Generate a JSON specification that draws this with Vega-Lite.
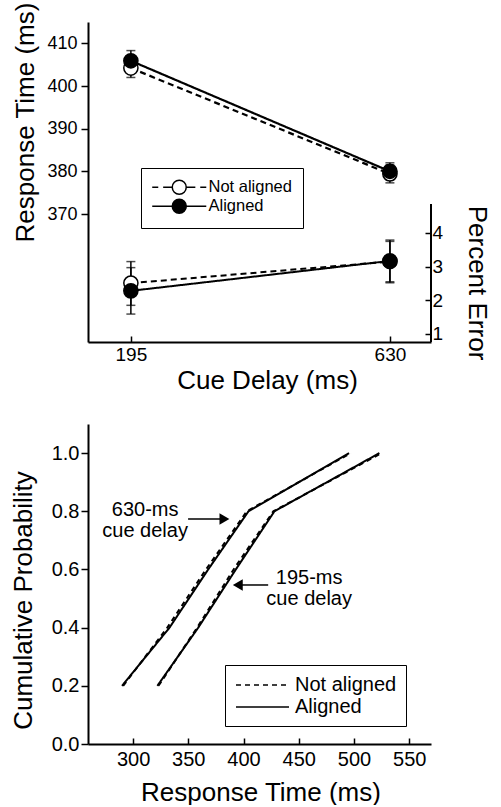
{
  "$schema": "https://vega.github.io/schema/vega-lite/v6.json",
  "background": "white",
  "padding": {"left": 10, "top": 1, "right": 0, "bottom": 0},
  "config": {
    "font": "Liberation Sans",
    "view": {"stroke": null},
    "axis": {"grid": false, "domainColor": "black", "domainWidth": 2, "tickColor": "black", "tickWidth": 1.5, "labelColor": "black", "titleColor": "black", "titleFontWeight": "normal", "titleFontSize": 26, "labelFont": "Liberation Sans", "titleFont": "Liberation Sans"},
    "legend": {"labelFont": "Liberation Sans", "labelColor": "black"}
  },
  "datasets": {
    "top": [
      {"delay": 195, "cond": "Not aligned", "rt": 404.2, "rt_lo": 402.0, "rt_hi": 406.4, "err": 2.51, "err_lo": 1.85, "err_hi": 3.15},
      {"delay": 630, "cond": "Not aligned", "rt": 379.4, "rt_lo": 377.3, "rt_hi": 381.5, "err": 3.15, "err_lo": 2.55, "err_hi": 3.75},
      {"delay": 195, "cond": "Aligned", "rt": 405.9, "rt_lo": 403.5, "rt_hi": 408.3, "err": 2.28, "err_lo": 1.59, "err_hi": 2.97},
      {"delay": 630, "cond": "Aligned", "rt": 380.0, "rt_lo": 378.0, "rt_hi": 382.0, "err": 3.17, "err_lo": 2.52, "err_hi": 3.79}
    ],
    "rightaxis": [{"delay": 699, "lo": 0.76, "hi": 4.86}],
    "cdf": [
      {"delay": "630", "cond": "Not aligned", "p": 0.2, "rt": 291},
      {"delay": "630", "cond": "Not aligned", "p": 0.4, "rt": 331},
      {"delay": "630", "cond": "Not aligned", "p": 0.6, "rt": 366},
      {"delay": "630", "cond": "Not aligned", "p": 0.8, "rt": 403},
      {"delay": "630", "cond": "Not aligned", "p": 1.0, "rt": 497},
      {"delay": "195", "cond": "Not aligned", "p": 0.2, "rt": 323},
      {"delay": "195", "cond": "Not aligned", "p": 0.4, "rt": 358},
      {"delay": "195", "cond": "Not aligned", "p": 0.6, "rt": 391},
      {"delay": "195", "cond": "Not aligned", "p": 0.8, "rt": 427},
      {"delay": "195", "cond": "Not aligned", "p": 1.0, "rt": 525},
      {"delay": "630", "cond": "Aligned", "p": 0.2, "rt": 290},
      {"delay": "630", "cond": "Aligned", "p": 0.4, "rt": 333},
      {"delay": "630", "cond": "Aligned", "p": 0.6, "rt": 368},
      {"delay": "630", "cond": "Aligned", "p": 0.8, "rt": 404.5},
      {"delay": "630", "cond": "Aligned", "p": 1.0, "rt": 495.5},
      {"delay": "195", "cond": "Aligned", "p": 0.2, "rt": 322},
      {"delay": "195", "cond": "Aligned", "p": 0.4, "rt": 359},
      {"delay": "195", "cond": "Aligned", "p": 0.6, "rt": 393},
      {"delay": "195", "cond": "Aligned", "p": 0.8, "rt": 428},
      {"delay": "195", "cond": "Aligned", "p": 1.0, "rt": 523}
    ],
    "notes": [
      {"rt": 310.9, "p": 0.804, "label": "630-ms\ncue delay"},
      {"rt": 459.4, "p": 0.571, "label": "195-ms\ncue delay"}
    ],
    "arrows": [
      {"from": 349.8, "to": 382.7, "p": 0.7735, "dir": "right"},
      {"from": 422.3, "to": 394.8, "p": 0.5466, "dir": "left"}
    ]
  },
  "spacing": 31,
  "resolve": {"scale": {"strokeDash": "independent", "fill": "independent", "shape": "independent"}, "legend": {"strokeDash": "independent", "fill": "independent", "shape": "independent"}},
  "vconcat": [
    {
      "width": 343,
      "height": 320,
      "layer": [
        {
          "data": {"name": "top"},
          "layer": [
            {
              "mark": {"type": "line", "stroke": "black", "strokeWidth": 2.2},
              "encoding": {
                "x": {"field": "delay", "type": "quantitative", "title": "Cue Delay (ms)", "scale": {"domain": [123, 699], "nice": false, "zero": false},
                      "axis": {"values": [195, 630], "tickSize": -6, "labelFontSize": 19, "labelPadding": 9, "title": "Cue Delay (ms)", "titleX": 179, "titleY": 46, "titleAlign": "center", "titleBaseline": "alphabetic"}},
                "y": {"field": "rt", "type": "quantitative", "title": "Response Time (ms)", "scale": {"domain": [340, 415], "nice": false, "zero": false},
                      "axis": {"orient": "left", "values": [370, 380, 390, 400, 410], "tickSize": 7, "labelFontSize": 18, "labelPadding": 4, "title": "Response Time (ms)", "titleAngle": -90, "titleX": -55, "titleY": 100, "titleAlign": "center", "titleBaseline": "alphabetic"}},
                "strokeDash": {"field": "cond", "type": "nominal", "scale": {"domain": ["Aligned", "Not aligned"], "range": [[1, 0], [6, 4]]}, "legend": null}
              }
            },
            {
              "mark": {"type": "errorbar", "color": "black", "ticks": {"size": 9, "thickness": 1.5}, "rule": {"strokeWidth": 1.5}},
              "encoding": {
                "x": {"field": "delay", "type": "quantitative", "title": "Cue Delay (ms)"},
                "y": {"field": "rt_lo", "type": "quantitative", "title": "Response Time (ms)"},
                "y2": {"field": "rt_hi"}
              }
            },
            {
              "mark": {"type": "point", "filled": true, "size": 200, "stroke": "black", "strokeWidth": 1.5, "opacity": 1},
              "encoding": {
                "x": {"field": "delay", "type": "quantitative", "title": "Cue Delay (ms)"},
                "y": {"field": "rt", "type": "quantitative", "title": "Response Time (ms)"},
                "fill": {"field": "cond", "type": "nominal", "scale": {"domain": ["Not aligned", "Aligned"], "range": ["white", "black"]}}
              }
            },
            {
              "mark": {"type": "point", "filled": true, "size": 196, "stroke": "black", "strokeWidth": 1.5, "opacity": 0},
              "encoding": {
                "x": {"field": "delay", "type": "quantitative", "title": "Cue Delay (ms)"},
                "y": {"field": "rt", "type": "quantitative", "title": "Response Time (ms)"},
                "fill": {"field": "cond", "type": "nominal",
                  "legend": {"orient": "none", "legendX": 53, "legendY": 146, "title": null, "strokeColor": "black", "padding": 11, "labelFontSize": 16.5, "symbolSize": 196, "symbolOffset": 19, "labelOffset": 21, "rowPadding": -2, "symbolStrokeColor": "black", "symbolStrokeWidth": 1.5, "symbolOpacity": 1}},
                "shape": {"field": "cond", "type": "nominal",
                  "scale": {"domain": ["Not aligned", "Aligned"], "range": ["M-3.86,0L-3.0,0M-2.3,0L-1,0M1,0L2.3,0M3.0,0L3.86,0M1,0A1,1,0,1,1,-1,0A1,1,0,1,1,1,0Z", "M-3.86,0L-1,0M1,0L3.86,0M1,0A1,1,0,1,1,-1,0A1,1,0,1,1,1,0Z"]},
                  "legend": {"orient": "none", "legendX": 53, "legendY": 146, "title": null, "strokeColor": "black", "padding": 11, "labelFontSize": 16.5, "symbolSize": 196, "symbolOffset": 19, "labelOffset": 21, "rowPadding": -2, "symbolStrokeColor": "black", "symbolStrokeWidth": 1.5, "symbolOpacity": 1}}
              }
            }
          ]
        },
        {
          "layer": [
            {
              "data": {"name": "top"},
              "mark": {"type": "line", "stroke": "black", "strokeWidth": 2},
              "encoding": {
                "x": {"field": "delay", "type": "quantitative", "title": "Cue Delay (ms)"},
                "y": {"field": "err", "type": "quantitative", "title": "Percent Error", "scale": {"domain": [0.76, 10.27], "nice": false, "zero": false},
                      "axis": {"orient": "right", "values": [1, 2, 3, 4], "tickSize": -6, "domain": false, "labelFontSize": 19, "labelPadding": 7, "title": "Percent Error", "titleAngle": 90, "titleX": 37, "titleY": 260.5, "titleAlign": "center", "titleBaseline": "alphabetic"}},
                "strokeDash": {"field": "cond", "type": "nominal", "legend": null}
              }
            },
            {
              "data": {"name": "top"},
              "mark": {"type": "errorbar", "color": "black", "ticks": {"size": 9, "thickness": 1.5}, "rule": {"strokeWidth": 1.5}},
              "encoding": {
                "x": {"field": "delay", "type": "quantitative", "title": "Cue Delay (ms)"},
                "y": {"field": "err_lo", "type": "quantitative", "title": "Percent Error"},
                "y2": {"field": "err_hi"}
              }
            },
            {
              "data": {"name": "top"},
              "mark": {"type": "point", "filled": true, "size": 200, "stroke": "black", "strokeWidth": 1.5, "opacity": 1},
              "encoding": {
                "x": {"field": "delay", "type": "quantitative", "title": "Cue Delay (ms)"},
                "y": {"field": "err", "type": "quantitative", "title": "Percent Error"},
                "fill": {"field": "cond", "type": "nominal"}
              }
            },
            {
              "data": {"name": "rightaxis"},
              "mark": {"type": "rule", "color": "black", "strokeWidth": 2},
              "encoding": {
                "x": {"field": "delay", "type": "quantitative", "title": "Cue Delay (ms)"},
                "y": {"field": "lo", "type": "quantitative", "title": "Percent Error"},
                "y2": {"field": "hi"}
              }
            }
          ]
        }
      ],
      "resolve": {"scale": {"y": "independent"}}
    },
    {
      "width": 343,
      "height": 320,
      "layer": [
        {
          "data": {"name": "cdf"},
          "mark": {"type": "line", "stroke": "black", "strokeWidth": 2},
          "encoding": {
            "x": {"field": "rt", "type": "quantitative", "scale": {"domain": [259.2, 569.7], "nice": false, "zero": false},
                  "axis": {"values": [300, 350, 400, 450, 500, 550], "tickSize": -6, "labelFontSize": 20, "labelPadding": 11, "title": "Response Time (ms)", "titleX": 172.5, "titleY": 56, "titleAlign": "center", "titleBaseline": "alphabetic"}},
            "y": {"field": "p", "type": "quantitative", "scale": {"domain": [0, 1.1], "nice": false},
                  "axis": {"values": [0, 0.2, 0.4, 0.6, 0.8, 1.0], "format": ".1f", "tickSize": 7, "labelFontSize": 20, "labelPadding": 2, "title": "Cumulative Probability", "titleAngle": -90, "titleX": -57, "titleY": 176, "titleAlign": "center", "titleBaseline": "alphabetic"}},
            "detail": {"field": "delay", "type": "nominal"},
            "order": {"field": "p", "type": "quantitative"},
            "strokeDash": {"field": "cond", "type": "nominal", "scale": {"domain": ["Not aligned", "Aligned"], "range": [[5, 4], [1, 0]]},
              "legend": {"orient": "none", "legendX": 137, "legendY": 241, "title": null, "strokeColor": "black", "padding": 9, "labelFontSize": 20, "symbolType": "M-2.65,0L2.65,0", "symbolSize": 400, "symbolOffset": 17.5, "labelOffset": 21.5, "rowPadding": 1, "symbolStrokeColor": "black", "symbolStrokeWidth": 1.5}}
          }
        },
        {
          "data": {"name": "notes"},
          "mark": {"type": "text", "fontSize": 20, "align": "center", "baseline": "middle", "lineBreak": "\n", "lineHeight": 21, "color": "black"},
          "encoding": {
            "x": {"field": "rt", "type": "quantitative"},
            "y": {"field": "p", "type": "quantitative"},
            "text": {"field": "label"}
          }
        },
        {
          "data": {"name": "arrows"},
          "mark": {"type": "rule", "color": "black", "strokeWidth": 1.5},
          "encoding": {
            "x": {"field": "from", "type": "quantitative"},
            "x2": {"field": "to"},
            "y": {"field": "p", "type": "quantitative"}
          }
        },
        {
          "data": {"name": "arrows"},
          "mark": {"type": "point", "filled": true, "color": "black", "size": 130, "opacity": 1},
          "encoding": {
            "x": {"field": "to", "type": "quantitative"},
            "y": {"field": "p", "type": "quantitative"},
            "shape": {"field": "dir", "type": "nominal", "scale": {"domain": ["right", "left"], "range": ["triangle-right", "triangle-left"]}, "legend": null}
          }
        }
      ]
    }
  ]
}
